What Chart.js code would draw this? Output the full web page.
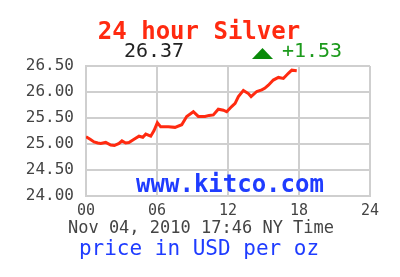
<!DOCTYPE html>
<html>
<head>
<meta charset="utf-8">
<script src="https://cdn.jsdelivr.net/npm/chart.js@4/dist/chart.umd.min.js"></script>
<style>
  html, body { margin: 0; padding: 0; background: #fff; }
  #wrap { width: 400px; height: 277px; position: relative; }
</style>
</head>
<body>
<div id="wrap"><canvas id="silver" width="400" height="277"></canvas></div>
<script>
// hours since midnight, NY time
const hours = [0, 0.35, 0.68, 1.0, 1.24, 1.67, 2.09, 2.4, 2.79, 3.04, 3.35, 3.63, 4.06, 4.48, 4.8, 5.05, 5.47, 5.75, 6.03, 6.31,
  6.96, 7.52, 8.09, 8.51, 9.07, 9.49, 10.06, 10.4, 10.76, 11.18, 11.61, 11.89, 12.31, 12.6, 12.88, 13.3, 13.72, 13.95,
  14.43, 14.85, 15.1, 15.41, 15.83, 16.26, 16.68, 17.1, 17.39, 17.81]
const prices = [25.14, 25.09, 25.04, 25.02, 25.01, 25.03, 24.98, 24.97, 25.01, 25.06, 25.02, 25.03, 25.09, 25.15, 25.13, 25.19, 25.15, 25.26, 25.41, 25.33,
  25.33, 25.32, 25.37, 25.53, 25.62, 25.53, 25.53, 25.55, 25.56, 25.67, 25.65, 25.62, 25.72, 25.78, 25.91, 26.03, 25.97, 25.91,
  26.01, 26.04, 26.07, 26.13, 26.23, 26.28, 26.26, 26.36, 26.42, 26.41]
const yTicks = [24.0, 24.5, 25.0, 25.5, 26.0, 26.5]
const xTicks = [0, 6, 12, 18, 24]

const titleText = '24 hour Silver'
const lastPrice = '26.37'
const change = '+1.53'
const stamp = 'Nov 04, 2010 17:46 NY Time'
const unitText = 'price in USD per oz'
const siteText = 'www.kitco.com'

const mono = '"DejaVu Sans Mono", "Liberation Mono", monospace'

const overlay = {
  id: 'overlay',
  beforeDatasetsDraw (chart) {
    const { ctx, chartArea } = chart
    ctx.save()
    ctx.textBaseline = 'middle'
    ctx.textAlign = 'center'
    ctx.fillStyle = '#1f3cff'
    ctx.font = 'bold 24px ' + mono
    ctx.fillText(siteText, (chartArea.left + chartArea.right) / 2 + 2, 186)
    ctx.restore()
  },
  afterDraw (chart) {
    const { ctx } = chart
    ctx.save()
    ctx.textBaseline = 'middle'
    ctx.textAlign = 'center'

    ctx.fillStyle = '#ff2a10'
    ctx.font = 'bold 24px ' + mono
    ctx.fillText(titleText, 199, 33)

    ctx.fillStyle = '#222'
    ctx.font = '20px ' + mono
    ctx.fillText(lastPrice, 154, 52)

    // up arrow
    ctx.fillStyle = '#0a8a0a'
    ctx.beginPath()
    ctx.moveTo(252, 59)
    ctx.lineTo(273, 59)
    ctx.lineTo(262.5, 48)
    ctx.closePath()
    ctx.fill()

    ctx.fillStyle = '#1c9a1c'
    ctx.font = '20px ' + mono
    ctx.fillText(change, 312, 52)

    ctx.fillStyle = '#444'
    ctx.font = '17px ' + mono
    ctx.fillText(stamp, 201, 229)

    ctx.fillStyle = '#1f3cff'
    ctx.font = '21px ' + mono
    ctx.fillText(unitText, 199, 250)
    ctx.restore()
  }
}

new Chart(document.getElementById('silver'), {
  type: 'line',
  data: {
    datasets: [{
      data: hours.map((h, i) => ({ x: h, y: prices[i] })),
      borderColor: '#ff2a10',
      borderWidth: 3,
      pointRadius: 0,
      tension: 0,
      fill: false
    }]
  },
  options: {
    responsive: false,
    animation: false,
    layout: { padding: { top: 66, left: 0, right: 30, bottom: 51 } },
    plugins: { legend: { display: false }, tooltip: { enabled: false } },
    scales: {
      x: {
        type: 'linear',
        min: 0,
        max: 24,
        afterBuildTicks: s => { s.ticks = xTicks.map(v => ({ value: v })) },
        afterFit: s => { s.height = 30 },
        ticks: {
          color: '#444',
          font: { family: mono, size: 15 },
          padding: 6,
          maxRotation: 0,
          callback: v => String(v).padStart(2, '0')
        },
        grid: { color: '#cfcfcf', lineWidth: 2, drawTicks: false },
        border: { color: '#cfcfcf', width: 2 }
      },
      y: {
        min: 24,
        max: 26.5,
        afterBuildTicks: s => { s.ticks = yTicks.map(v => ({ value: v })) },
        afterFit: s => { s.width = 86 },
        ticks: {
          color: '#444',
          font: { family: mono, size: 16 },
          padding: 12,
          callback: v => v.toFixed(2)
        },
        grid: { color: '#cfcfcf', lineWidth: 2, drawTicks: false },
        border: { color: '#cfcfcf', width: 2 }
      }
    }
  },
  plugins: [overlay]
})
</script>
</body>
</html>
